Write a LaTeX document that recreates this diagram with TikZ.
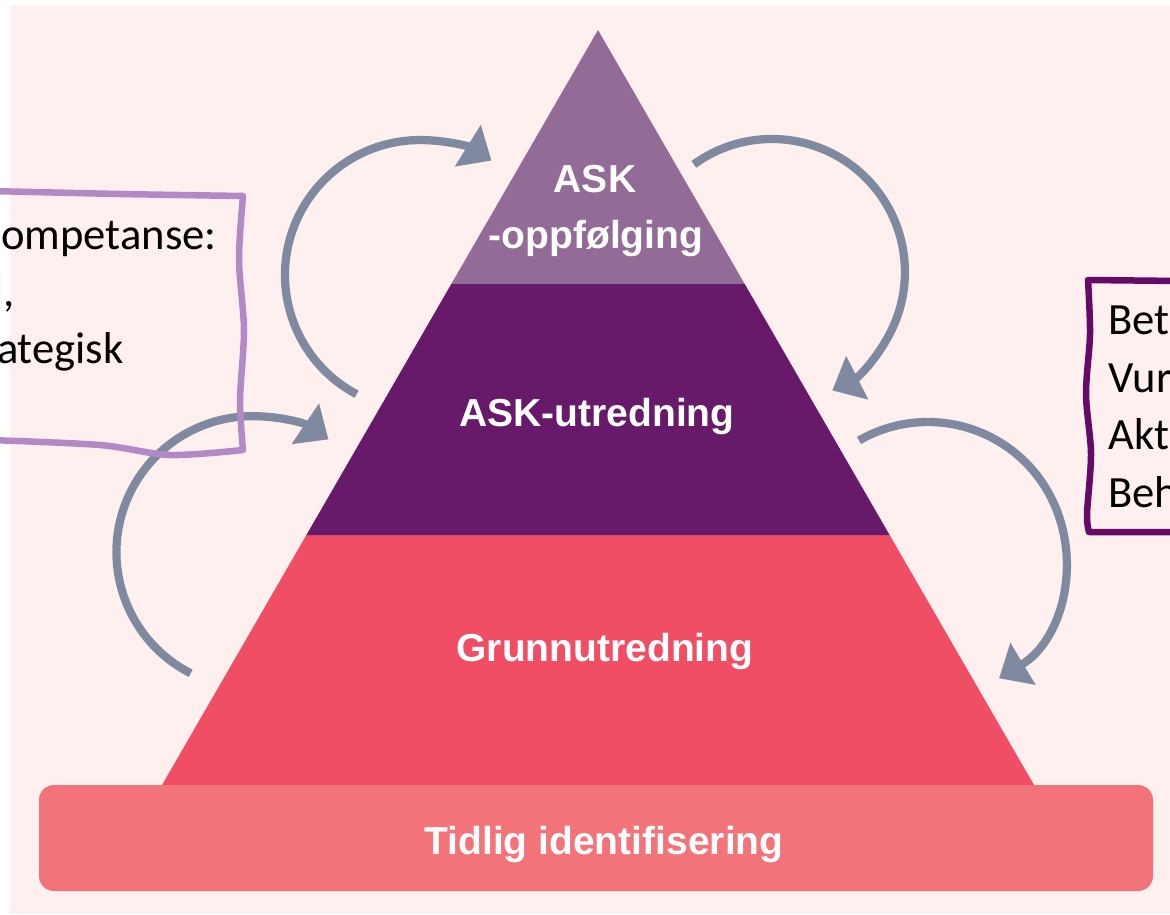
\documentclass[tikz,border=0pt]{standalone}
\usepackage{fontspec}
\setmainfont{Liberation Sans}
\newfontfamily\notefont{Carlito}
\usetikzlibrary{arrows.meta}

\definecolor{bgpink}{HTML}{FDF0EF}
\definecolor{topband}{HTML}{936B97}
\definecolor{midband}{HTML}{681A6A}
\definecolor{lowband}{HTML}{EF4E65}
\definecolor{baseband}{HTML}{F27379}
\definecolor{cyclegray}{HTML}{7F8AA0}
\definecolor{leftline}{HTML}{B388C6}
\definecolor{rightline}{HTML}{650A66}

\tikzset{
  level/.style={text=white, anchor=base, inner sep=0pt,
    font=\fontsize{22.2}{26}\selectfont\bfseries},
  note/.style={inner sep=0pt, font=\notefont\fontsize{25.4}{30}\selectfont},
  cycle/.style={draw=cyclegray, line width=0.165cm,
    -{Triangle[length=0.56cm,width=0.95cm]}},
  notebox/.style={line width=0.13cm, line join=round, line cap=round},
}

\begin{document}
\begin{tikzpicture}[x=0.02cm, y=0.02cm]
  \useasboundingbox (0,0) rectangle (1170,914);
  \clip (0,0) rectangle (1170,914);
  \fill[bgpink] (10,0) rectangle (1170,908);

  % pyramid
  \fill[lowband] (162,129) -- (1034,129) -- (889.6,379) -- (306.4,379) -- cycle;
  \fill[midband] (306.4,379) -- (889.6,379) -- (744.7,630) -- (451.3,630) -- cycle;
  \fill[topband] (451.3,630) -- (744.7,630) -- (598,884) -- cycle;
  \fill[baseband, rounded corners=0.3cm] (39,23) rectangle (1153,129);

  \node[level] (ask) at (595,721) {ASK};
  \node[level] (oppf) at (596,665) {-oppfølging};
  \node[level] (utred) at (597,487) {ASK-utredning};
  \node[level] (grunn) at (605,253) {Grunnutredning};
  \node[level] (tidlig) at (604,60) {Tidlig identifisering};

  % arrows round the pyramid
  \coordinate (c1) at (356.6,519.8);
  \coordinate (c2) at (693.8,749.6);
  \coordinate (c3) at (190.7,240.7);
  \coordinate (c4) at (859,473.5);
  \draw[cycle] (c1) arc[start angle=242, end angle=58, radius=2.7cm];
  \draw[cycle] (c2) arc[start angle=126, end angle=-63, radius=2.66cm];
  \draw[cycle] (c3) arc[start angle=243, end angle=56, radius=2.72cm];
  \draw[cycle] (c4) arc[start angle=120, end angle=-59, radius=2.76cm];

  % left note
  \draw[notebox, draw=leftline]
    plot[smooth] coordinates {(-10,723) (120,720) (243,718)}
    -- plot[smooth] coordinates {(243,718) (239,654) (244,584) (240,514) (243,464)}
    -- plot[smooth] coordinates {(243,464) (170,459) (100,469) (-10,474)};
  \node[note, anchor=base east] (lk) at (217,664) {ompetanse:};
  \node[note, anchor=base east] (lm) at (15,607) {l,};
  \node[note, anchor=base east] (ls) at (124,550) {ategisk};

  % right note
  \draw[notebox, draw=rightline]
    (1180,633) -- (1088,634)
    -- plot[smooth] coordinates {(1088,634) (1090,580) (1086,520) (1091,460) (1087,400) (1089,382)}
    -- (1180,382);
  \node[note, anchor=base west] (rb) at (1108,579) {Bet};
  \node[note, anchor=base west] (rv) at (1108,521) {Vur};
  \node[note, anchor=base west] (ra) at (1108,464) {Akt};
  \node[note, anchor=base west] (rh) at (1108,407) {Beh};
\end{tikzpicture}
\end{document}
